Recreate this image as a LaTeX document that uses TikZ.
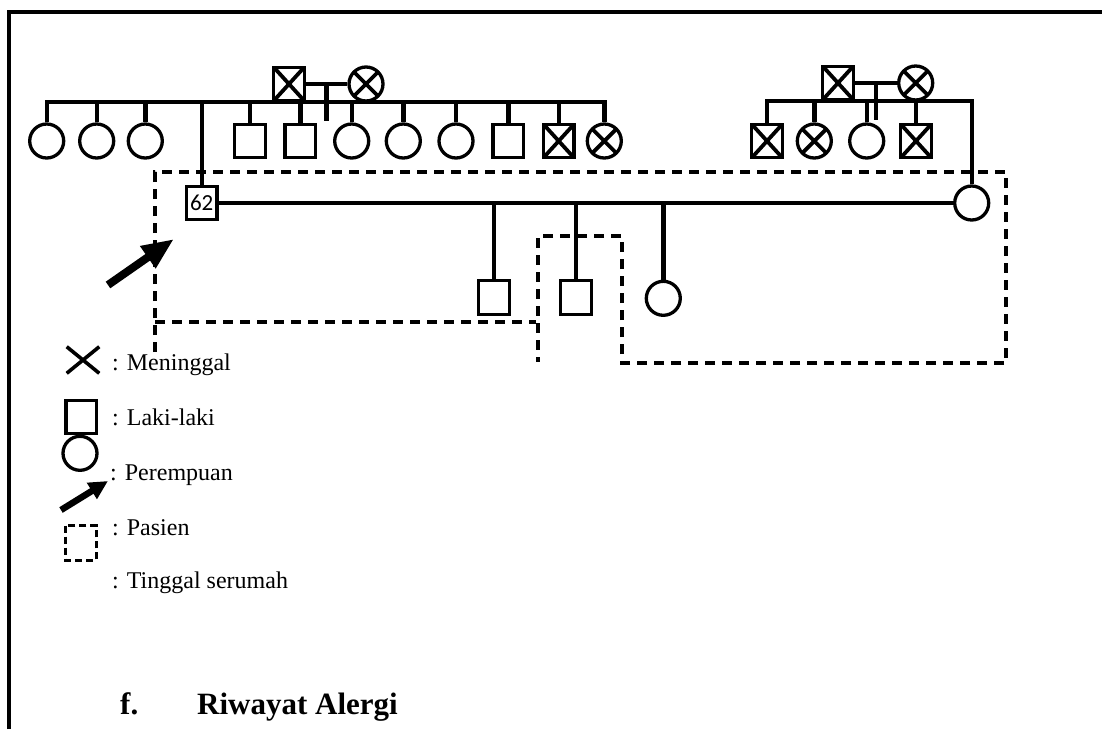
\documentclass[tikz,border=0pt]{standalone}
\usepackage{fontspec}
\setmainfont{Liberation Serif}
\newfontfamily\calibrifont{Carlito}
\usetikzlibrary{arrows.meta,calc}

\tikzset{
    male/.style={draw, rectangle, line width=3.3pt, minimum width=30.5pt, minimum height=33.5pt, inner sep=0pt, fill=white},
    female/.style={draw, circle, line width=3.3pt, minimum size=34pt, inner sep=0pt, fill=white},
    dead/.style={path picture={\draw[line width=3.8pt] (path picture bounding box.south west) -- (path picture bounding box.north east) (path picture bounding box.north west) -- (path picture bounding box.south east);}},
    link/.style={line width=4.4pt},
    house/.style={line width=3.2pt, dash pattern=on 10pt off 7pt},
    legendtext/.style={anchor=base west, inner sep=0pt, font=\fontsize{24}{28}\selectfont}
}

\begin{document}
\begin{tikzpicture}[x=1pt, y=-1pt]
    \useasboundingbox (0,0) rectangle (1102,729);
    % Frame
    \draw[line width=4.8pt] (9,729) -- (9,12) -- (1102,12);

    % Left grandparents
    \node[male, dead] (gfL) at (289,84) {};
    \node[female, dead] (gmL) at (366,84) {};
    \coordinate (sibL) at (0,102);

    % Left siblings
    \node[female] (lc1) at (46.7,141) {};
    \node[female] (lc2) at (96.7,141) {};
    \node[female] (lc3) at (145.3,141) {};
    \node[male, font=\calibrifont\fontsize{23}{25}\selectfont] (p) at (201.7,203) {62};
    \node[male] (lc4) at (250,141) {};
    \node[male] (lc5) at (300.3,141) {};
    \node[female] (lc6) at (351.7,141) {};
    \node[female] (lc7) at (403.3,141) {};
    \node[female] (lc8) at (456,141) {};
    \node[male] (lc9) at (508.3,141) {};
    \node[male, dead] (lc10) at (558.7,141) {};
    \node[female, dead] (lc11) at (604.3,141) {};

    \draw[link] (gfL) -- (gmL);
    \draw[link] ($(gfL.east)!0.5!(gmL.west)$) -- ++(0,37);
    \draw[link] (lc1.north) -- (lc1.north |- sibL) -- (lc11.north |- sibL) -- (lc11.north);
    \foreach \n in {lc2,lc3,p,lc4,lc5,lc6,lc7,lc8,lc9,lc10} {
        \draw[link] (\n.north) -- (\n.north |- sibL);
    }

    % Right grandparents
    \node[male, dead] (gfR) at (838,83) {};
    \node[female, dead] (gmR) at (915.7,83) {};
    \coordinate (sibR) at (0,101);

    % Right siblings
    \node[male, dead] (rc1) at (767,141) {};
    \node[female, dead] (rc2) at (814.3,141) {};
    \node[female] (rc3) at (866.7,141) {};
    \node[male, dead] (rc4) at (916,141) {};
    \node[female] (wife) at (971.7,203) {};

    \draw[link] (gfR) -- (gmR);
    \draw[link] ($(gfR.east)!0.5!(gmR.west)$) -- ++(0,37);
    \draw[link] (rc1.north) -- (rc1.north |- sibR) -| (wife.north);
    \foreach \n in {rc2,rc3,rc4} {
        \draw[link] (\n.north) -- (\n.north |- sibR);
    }

    % Couple and children
    \draw[link] (p) -- (wife);
    \node[male] (k1) at (494,297.5) {};
    \node[male] (k2) at (576,297.5) {};
    \node[female] (k3) at (663.3,298.3) {};
    \foreach \n in {k1,k2,k3} {
        \draw[link] (\n.north) -- (\n.north |- p.east);
    }

    % Living in the same house
    \draw[house] (155,352) -- (155,172) -- (1006,172) -- (1006,363) -- (622,363) -- (622,236) -- (538,236) -- (538,362);
    \draw[house] (155,322) -- (536,322);

    % Patient arrow
    \coordinate (pa-tail) at (108,285);
    \coordinate (pa-tip) at (174,239);
    \draw[line width=8pt, -{Triangle[length=32pt, width=25pt]}] (pa-tail) -- (pa-tip);

    % Legend
    \draw[line width=3.6pt] (66.7,346.7) -- (99.3,373.3) (66.7,373.3) -- (99.3,346.7);
    \node[legendtext] (lg-dead) at (112,370) {: Meninggal};
    \node[male] (lg-male-s) at (81.3,417) {};
    \node[legendtext] (lg-male) at (112,425) {: Laki-laki};
    \node[female] (lg-female-s) at (80,453.3) {};
    \node[legendtext] (lg-female) at (110,480) {: Perempuan};
    \coordinate (la-tail) at (61,510);
    \coordinate (la-tip) at (108,481);
    \draw[line width=6.5pt, -{Triangle[length=19pt, width=18pt]}] (la-tail) -- (la-tip);
    \draw[line width=3pt, dash pattern=on 7pt off 4pt] (65.7,525.7) rectangle (96.7,560);
    \node[legendtext] (lg-patient) at (112,535) {: Pasien};
    \node[legendtext] (lg-house) at (112,588) {: Tinggal serumah};

    % Section heading
    \node[anchor=base west, inner sep=0pt, font=\bfseries\fontsize{31}{36}\selectfont] (sec-no) at (120,714) {f.};
    \node[anchor=base west, inner sep=0pt, font=\bfseries\fontsize{31}{36}\selectfont] (sec-title) at (197,714) {Riwayat Alergi};
\end{tikzpicture}
\end{document}
